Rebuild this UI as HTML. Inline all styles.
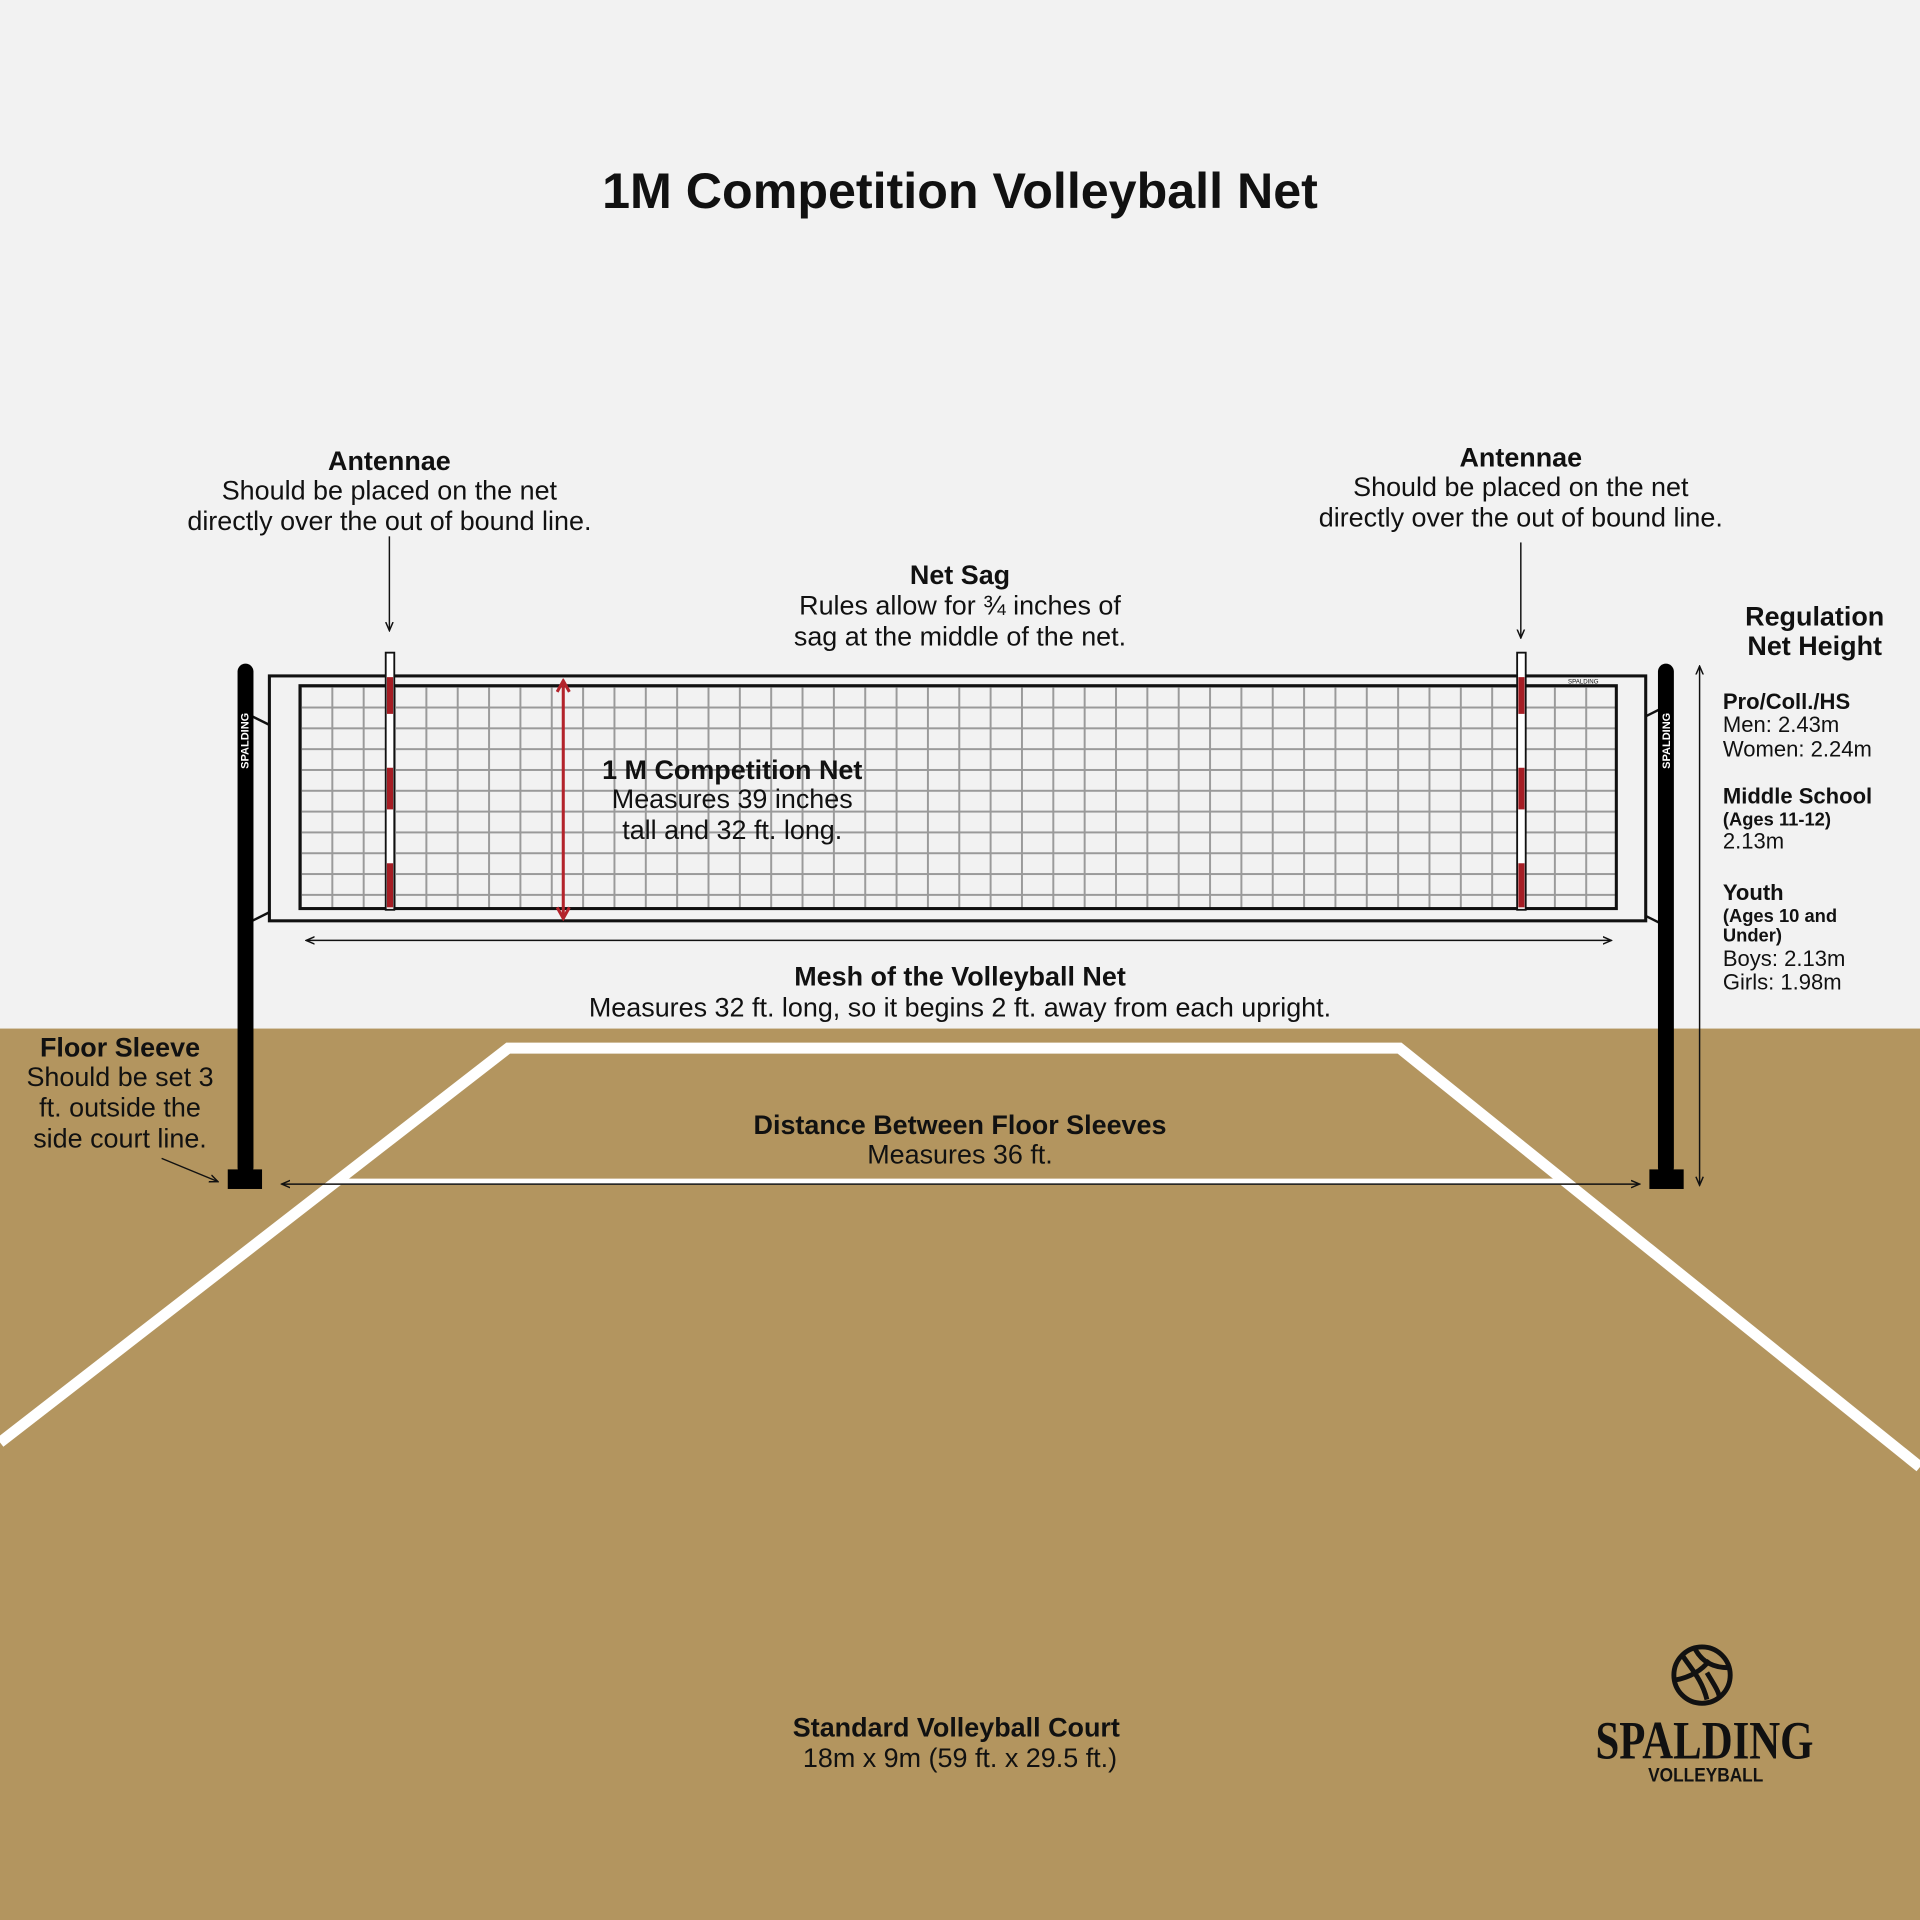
<!DOCTYPE html>
<html><head><meta charset="utf-8"><style>
html,body{margin:0;padding:0;background:#f2f2f2}
svg{display:block}
text{font-family:"Liberation Sans",Arial,sans-serif;fill:#111}
.b{font-weight:bold}
</style></head><body>
<svg width="1920" height="1920" viewBox="0 0 1568 1568" xmlns="http://www.w3.org/2000/svg">
<defs>
<marker id="ah" markerWidth="8" markerHeight="8" refX="7" refY="4" orient="auto-start-reverse" markerUnits="userSpaceOnUse"><path d="M0,1 L7,4 L0,7" fill="none" stroke="#111" stroke-width="1.2"/></marker>
<marker id="rh" markerWidth="12" markerHeight="12" refX="10" refY="6" orient="auto-start-reverse" markerUnits="userSpaceOnUse"><path d="M1,1 L10,6 L1,11" fill="none" stroke="#b3232b" stroke-width="2.5"/></marker>
<pattern id="grid" x="245" y="560" width="25.6" height="17" patternUnits="userSpaceOnUse">
<path d="M0,0 V17 M0,0 H25.6" stroke="#9a9a9a" stroke-width="3.2" fill="none"/></pattern>
</defs>
<rect width="1568" height="840" fill="#f2f2f2"/>
<rect y="840" width="1568" height="728" fill="#b3955f"/>
<path d="M0,1178 L415,856 H1143 L1568,1198" fill="none" stroke="#fff" stroke-width="9"/>
<line x1="275" y1="965" x2="1278" y2="965" stroke="#fff" stroke-width="5"/>

<text x="784" y="170" text-anchor="middle" class="b" font-size="41">1M Competition Volleyball Net</text>

<rect x="220" y="552" width="1124" height="200" fill="#f2f2f2" stroke="#111" stroke-width="2.5"/>
<rect x="245" y="560" width="1075" height="182" fill="url(#grid)" stroke="#111" stroke-width="2.5"/>
<line x1="206" y1="585" x2="220" y2="592" stroke="#111" stroke-width="2"/>
<line x1="206" y1="752" x2="220" y2="745" stroke="#111" stroke-width="2"/>
<line x1="1358" y1="578" x2="1344" y2="585" stroke="#111" stroke-width="2"/>
<line x1="1358" y1="755" x2="1344" y2="748" stroke="#111" stroke-width="2"/>
<text x="1293" y="558" font-size="5" text-anchor="middle">SPALDING</text>

<g>
<rect x="315" y="533" width="7" height="210" fill="#fff" stroke="#111" stroke-width="1.5"/>
<rect x="316" y="553" width="5" height="30" fill="#a51d24"/>
<rect x="316" y="627" width="5" height="34" fill="#a51d24"/>
<rect x="316" y="705" width="5" height="36" fill="#a51d24"/>
<rect x="1239" y="533" width="7" height="210" fill="#fff" stroke="#111" stroke-width="1.5"/>
<rect x="1240" y="553" width="5" height="30" fill="#a51d24"/>
<rect x="1240" y="627" width="5" height="34" fill="#a51d24"/>
<rect x="1240" y="705" width="5" height="36" fill="#a51d24"/>
</g>

<rect x="194" y="542" width="13" height="418" rx="6.5" fill="#000"/>
<rect x="186" y="955" width="28" height="16" fill="#000"/>
<text transform="translate(203,605) rotate(-90)" font-size="9" style="fill:#fff" text-anchor="middle" class="b">SPALDING</text>
<rect x="1354" y="542" width="13" height="418" rx="6.5" fill="#000"/>
<rect x="1347" y="955" width="28" height="16" fill="#000"/>
<text transform="translate(1364,605) rotate(-90)" font-size="9" style="fill:#fff" text-anchor="middle" class="b">SPALDING</text>

<line x1="460" y1="556" x2="460" y2="750" stroke="#b3232b" stroke-width="2.5" marker-end="url(#rh)" marker-start="url(#rh)"/>

<line x1="250" y1="768" x2="1316" y2="768" stroke="#111" stroke-width="1.2" marker-end="url(#ah)" marker-start="url(#ah)"/>
<line x1="230" y1="967" x2="1339" y2="967" stroke="#111" stroke-width="1.2" marker-end="url(#ah)" marker-start="url(#ah)"/>
<line x1="1388" y1="544" x2="1388" y2="968" stroke="#111" stroke-width="1.2" marker-end="url(#ah)" marker-start="url(#ah)"/>
<line x1="318" y1="438" x2="318" y2="515" stroke="#111" stroke-width="1.2" marker-end="url(#ah)"/>
<line x1="1242" y1="443" x2="1242" y2="521" stroke="#111" stroke-width="1.2" marker-end="url(#ah)"/>
<line x1="132" y1="946" x2="178" y2="965" stroke="#111" stroke-width="1.2" marker-end="url(#ah)"/>

<g font-size="22" text-anchor="middle">
<text x="318" y="384" class="b">Antennae</text>
<text x="318" y="408">Should be placed on the net</text>
<text x="318" y="433">directly over the out of bound line.</text>
<text x="1242" y="381" class="b">Antennae</text>
<text x="1242" y="405">Should be placed on the net</text>
<text x="1242" y="430">directly over the out of bound line.</text>
<text x="784" y="477" class="b">Net Sag</text>
<text x="784" y="502">Rules allow for ¾ inches of</text>
<text x="784" y="527">sag at the middle of the net.</text>
<text x="598" y="636" class="b">1 M Competition Net</text>
<text x="598" y="660">Measures 39 inches</text>
<text x="598" y="685">tall and 32 ft. long.</text>
<text x="784" y="805" class="b">Mesh of the Volleyball Net</text>
<text x="784" y="830">Measures 32 ft. long, so it begins 2 ft. away from each upright.</text>
<text x="98" y="863" class="b">Floor Sleeve</text>
<text x="98" y="887">Should be set 3</text>
<text x="98" y="912">ft. outside the</text>
<text x="98" y="937">side court line.</text>
<text x="784" y="926" class="b">Distance Between Floor Sleeves</text>
<text x="784" y="950">Measures 36 ft.</text>
<text x="781" y="1418" class="b">Standard Volleyball Court</text>
<text x="784" y="1443">18m x 9m (59 ft. x 29.5 ft.)</text>
<text x="1482" y="511" class="b">Regulation</text>
<text x="1482" y="535" class="b">Net Height</text>
</g>
<g font-size="18">
<text x="1407" y="579" class="b">Pro/Coll./HS</text>
<text x="1407" y="598">Men: 2.43m</text>
<text x="1407" y="618">Women: 2.24m</text>
<text x="1407" y="656" class="b">Middle School</text>
<text x="1407" y="674" class="b" font-size="15">(Ages 11-12)</text>
<text x="1407" y="693">2.13m</text>
<text x="1407" y="735" class="b">Youth</text>
<text x="1407" y="753" class="b" font-size="15">(Ages 10 and</text>
<text x="1407" y="769" class="b" font-size="15">Under)</text>
<text x="1407" y="789">Boys: 2.13m</text>
<text x="1407" y="808">Girls: 1.98m</text>
</g>

<g transform="translate(1390,1368)" fill="none" stroke="#111" stroke-width="4">
<circle r="23"/>
<path d="M-16,-16 C-8,-4 0,4 4,20 M-6,-22 C0,-10 10,-6 22,-6 M-22,4 C-10,2 0,-4 6,-12 M4,-2 C10,8 14,14 14,18"/>
</g>
<text x="1392" y="1436" text-anchor="middle" font-size="44" class="b" style="font-family:'Liberation Serif',serif" textLength="178" lengthAdjust="spacingAndGlyphs">SPALDING</text>
<text x="1393" y="1455" text-anchor="middle" font-size="16" class="b" textLength="94" lengthAdjust="spacingAndGlyphs">VOLLEYBALL</text>
</svg>
</body></html>
